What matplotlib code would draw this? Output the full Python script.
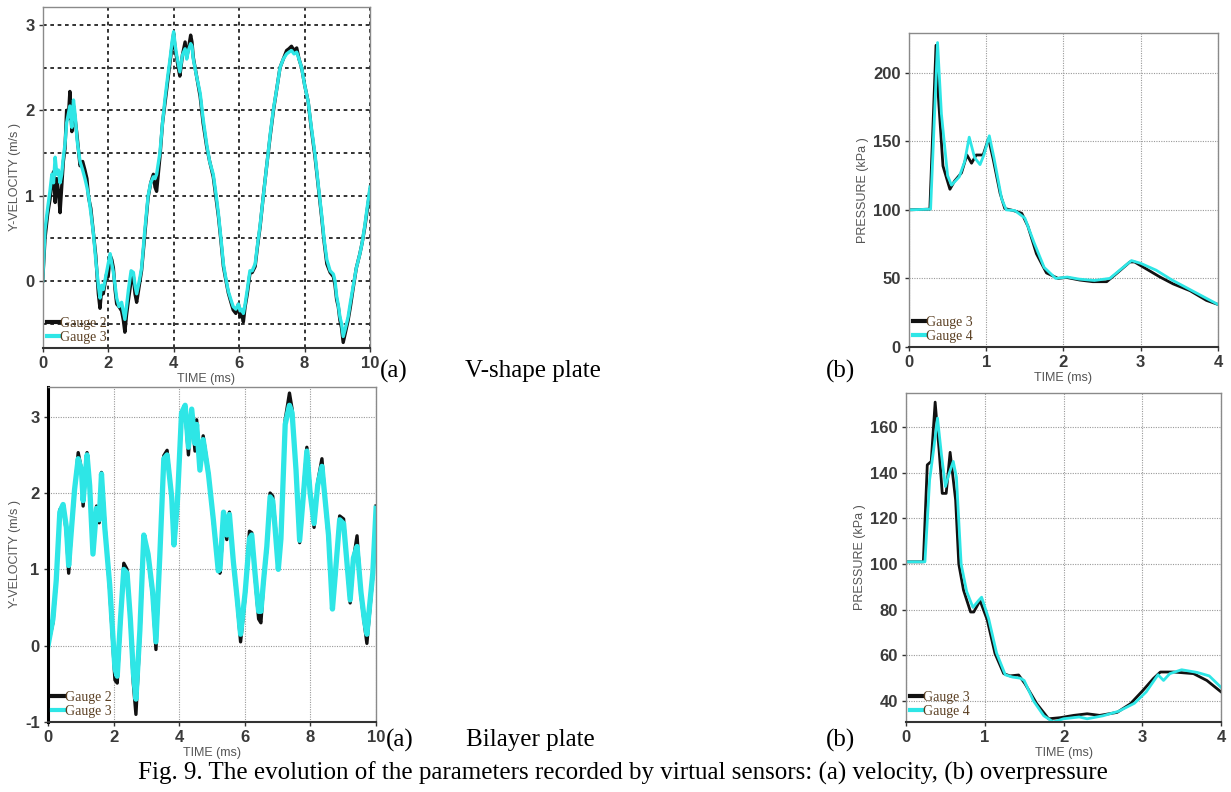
import matplotlib
matplotlib.use("Agg")
import matplotlib.pyplot as plt
from matplotlib.ticker import MultipleLocator

plt.rcParams["axes.unicode_minus"] = False

# ---- V-shape plate, velocity (gauge 2 black, gauge 3 cyan) ----
T_A = [0.00, 0.07, 0.15, 0.22, 0.28, 0.33, 0.38, 0.43, 0.48, 0.53,
       0.58, 0.63, 0.68, 0.73, 0.78, 0.83, 0.89, 0.94, 0.99, 1.05,
       1.14, 1.22, 1.29, 1.35, 1.40, 1.47, 1.55, 1.62, 1.70, 1.75,
       1.80, 1.85, 1.95, 2.00, 2.06, 2.11, 2.16, 2.21, 2.26, 2.33,
       2.41, 2.46, 2.51, 2.56, 2.62, 2.70, 2.77, 2.82, 2.87, 2.95,
       3.02, 3.12, 3.22, 3.30, 3.38, 3.43, 3.48, 3.58, 3.66, 3.74,
       3.82, 3.89, 3.95, 4.00, 4.05, 4.09, 4.14, 4.19, 4.27, 4.35,
       4.40, 4.45, 4.52, 4.56, 4.60, 4.70, 4.81, 4.90, 5.01, 5.10,
       5.21, 5.30, 5.37, 5.45, 5.52, 5.60, 5.67, 5.75, 5.82, 5.90,
       5.98, 6.03, 6.08, 6.13, 6.18, 6.25, 6.33, 6.40, 6.49, 6.56,
       6.64, 6.74, 6.84, 6.95, 7.05, 7.15, 7.25, 7.35, 7.45, 7.52,
       7.60, 7.68, 7.76, 7.83, 7.91, 8.00, 8.11, 8.20, 8.32, 8.42,
       8.52, 8.60, 8.68, 8.78, 8.88, 8.93, 8.98, 9.03, 9.08, 9.13,
       9.18, 9.25, 9.33, 9.40, 9.49, 9.58, 9.69, 9.76, 9.84, 9.92,
       10.0]
V_A2 = [0.00, 0.50, 0.78, 0.95, 1.15, 1.28, 0.92, 1.20, 1.05, 0.80,
        1.10, 1.40, 1.55, 2.00, 1.90, 2.22, 1.75, 2.05, 1.90, 1.70,
        1.35, 1.40, 1.30, 1.20, 0.98, 0.85, 0.55, 0.30, -0.15, -0.32,
        -0.10, -0.15, 0.08, 0.05, 0.30, 0.25, 0.15, -0.10, -0.27, -0.30,
        -0.35, -0.45, -0.60, -0.40, -0.22, 0.00, 0.05, -0.15, -0.25, -0.05,
        0.12, 0.55, 0.98, 1.15, 1.25, 1.10, 1.05, 1.45, 1.85, 2.10,
        2.35, 2.57, 2.75, 2.90, 2.70, 2.62, 2.50, 2.40, 2.65, 2.80,
        2.62, 2.72, 2.88, 2.80, 2.62, 2.40, 2.16, 1.85, 1.57, 1.40,
        1.22, 0.95, 0.75, 0.45, 0.17, 0.00, -0.14, -0.25, -0.34, -0.38,
        -0.27, -0.42, -0.39, -0.48, -0.31, -0.15, 0.09, 0.10, 0.17, 0.40,
        0.63, 1.00, 1.34, 1.70, 2.00, 2.25, 2.50, 2.60, 2.70, 2.72,
        2.75, 2.70, 2.73, 2.60, 2.50, 2.30, 2.10, 1.80, 1.45, 1.10,
        0.75, 0.45, 0.20, 0.10, 0.05, -0.05, -0.22, -0.30, -0.46, -0.55,
        -0.72, -0.60, -0.46, -0.30, -0.07, 0.15, 0.32, 0.45, 0.63, 0.85,
        1.07]
V_A3 = [0.00, 0.60, 0.85, 1.05, 1.25, 1.15, 1.45, 1.25, 1.30, 1.15,
        1.25, 1.45, 1.60, 1.85, 1.95, 2.05, 1.80, 2.12, 1.95, 1.65,
        1.40, 1.30, 1.20, 1.10, 1.00, 0.80, 0.55, 0.25, -0.05, -0.20,
        -0.05, -0.10, 0.10, 0.20, 0.32, 0.20, 0.10, -0.05, -0.20, -0.30,
        -0.25, -0.35, -0.45, -0.30, -0.10, 0.12, 0.10, -0.05, -0.15, 0.00,
        0.15, 0.60, 1.00, 1.15, 1.22, 1.20, 1.25, 1.50, 1.85, 2.15,
        2.40, 2.60, 2.80, 2.92, 2.75, 2.65, 2.55, 2.45, 2.65, 2.72,
        2.60, 2.70, 2.78, 2.75, 2.60, 2.40, 2.20, 1.90, 1.60, 1.40,
        1.25, 1.00, 0.78, 0.48, 0.20, 0.02, -0.12, -0.22, -0.30, -0.33,
        -0.27, -0.35, -0.33, -0.38, -0.28, -0.10, 0.12, 0.12, 0.20, 0.42,
        0.65, 1.00, 1.34, 1.72, 2.02, 2.25, 2.50, 2.60, 2.66, 2.68,
        2.70, 2.66, 2.68, 2.60, 2.50, 2.30, 2.10, 1.82, 1.48, 1.12,
        0.78, 0.48, 0.25, 0.12, 0.08, 0.00, -0.18, -0.28, -0.42, -0.50,
        -0.65, -0.55, -0.42, -0.25, -0.05, 0.15, 0.32, 0.45, 0.65, 0.88,
        1.10]

# ---- V-shape plate, pressure (gauge 3 black, gauge 4 cyan) ----
T_B3 = [0, 0.27, 0.35, 0.38, 0.44, 0.53, 0.59, 0.68, 0.75, 0.81,
        0.87, 0.96, 1.03, 1.09, 1.18, 1.24, 1.35, 1.46, 1.54, 1.65,
        1.78, 1.93, 2.04, 2.21, 2.38, 2.56, 2.69, 2.86, 2.92, 3.07,
        3.25, 3.42, 3.64, 3.85, 4.0]
P_B3 = [100, 100.5, 220, 183, 132, 115, 121, 127, 140, 134,
        140, 140, 152, 137, 112, 101, 99.5, 97.5, 88, 68,
        54, 50, 50.7, 48.8, 47.6, 47.6, 53.7, 62, 62, 57,
        51, 46, 41, 34, 31]
T_B4 = [0, 0.28, 0.37, 0.42, 0.50, 0.55, 0.65, 0.72, 0.78, 0.85,
        0.92, 0.97, 1.04, 1.10, 1.20, 1.26, 1.37, 1.50, 1.62, 1.75,
        1.90, 2.05, 2.20, 2.40, 2.60, 2.75, 2.88, 3.00, 3.20, 3.40,
        3.60, 3.80, 4.0]
P_B4 = [100, 100.5, 222, 170, 125, 118, 124, 135, 153, 138,
        133, 140, 154, 138, 108, 100, 99.5, 94, 76, 58,
        50, 51, 49.5, 48.5, 50, 57, 63, 61, 56, 49,
        43, 37, 31]

# ---- Bilayer plate, velocity ----
T_C = [0.00, 0.15, 0.25, 0.36, 0.46, 0.56, 0.63, 0.71, 0.81, 0.92,
       1.02, 1.07, 1.19, 1.27, 1.37, 1.48, 1.56, 1.63, 1.73, 1.88,
       2.04, 2.11, 2.21, 2.31, 2.41, 2.51, 2.60, 2.68, 2.80, 2.92,
       3.05, 3.19, 3.29, 3.41, 3.53, 3.63, 3.77, 3.84, 3.94, 4.07,
       4.18, 4.28, 4.38, 4.48, 4.53, 4.63, 4.73, 4.89, 5.04, 5.19,
       5.24, 5.35, 5.45, 5.53, 5.65, 5.77, 5.87, 6.01, 6.14, 6.21,
       6.31, 6.42, 6.49, 6.57, 6.67, 6.77, 6.85, 6.92, 7.02, 7.10,
       7.23, 7.36, 7.44, 7.56, 7.67, 7.79, 7.89, 7.99, 8.11, 8.22,
       8.35, 8.45, 8.55, 8.67, 8.76, 8.89, 9.01, 9.11, 9.21, 9.31,
       9.42, 9.54, 9.64, 9.72, 9.82, 9.90, 10.0]
V_C2 = [0.00, 0.30, 0.82, 1.78, 1.85, 1.48, 0.95, 1.48, 2.00, 2.53,
        2.31, 1.83, 2.53, 2.05, 1.26, 1.83, 1.61, 2.27, 1.61, 0.73,
        -0.45, -0.49, 0.30, 1.08, 1.00, 0.30, -0.49, -0.90, 0.12, 1.40,
        1.17, 0.65, -0.05, 1.17, 2.49, 2.56, 1.92, 1.35, 1.83, 3.00,
        3.10, 2.50, 3.05, 2.55, 2.96, 2.35, 2.75, 2.27, 1.61, 1.13,
        0.95, 1.61, 1.39, 1.75, 1.08, 0.56, 0.05, 0.65, 1.50, 1.48,
        0.91, 0.35, 0.30, 0.82, 1.26, 2.00, 1.96, 1.61, 1.08, 1.39,
        2.96, 3.31, 3.10, 2.27, 1.35, 2.05, 2.60, 2.05, 1.55, 2.14,
        2.45, 1.88, 1.39, 0.52, 0.91, 1.70, 1.66, 1.08, 0.56, 1.13,
        1.44, 0.65, 0.30, 0.03, 0.52, 0.91, 1.83]
V_C3 = [0.00, 0.35, 0.85, 1.75, 1.85, 1.55, 1.05, 1.50, 2.05, 2.45,
        2.30, 1.90, 2.50, 2.10, 1.20, 1.80, 1.65, 2.25, 1.55, 0.80,
        -0.30, -0.40, 0.35, 1.00, 0.95, 0.35, -0.35, -0.70, 0.20, 1.45,
        1.20, 0.70, 0.05, 1.20, 2.45, 2.50, 1.95, 1.32, 1.85, 3.05,
        3.15, 2.60, 3.10, 2.65, 2.90, 2.30, 2.70, 2.25, 1.65, 0.98,
        1.00, 1.75, 1.45, 1.72, 1.10, 0.60, 0.15, 0.70, 1.40, 1.45,
        0.95, 0.45, 0.45, 0.85, 1.30, 1.95, 1.90, 1.55, 1.00, 1.40,
        2.90, 3.15, 3.05, 2.30, 1.38, 2.00, 2.55, 2.00, 1.60, 2.10,
        2.35, 1.90, 1.45, 0.48, 0.95, 1.65, 1.60, 1.10, 0.60, 1.15,
        1.30, 0.70, 0.35, 0.15, 0.60, 0.95, 1.80]

# ---- Bilayer plate, pressure ----
T_D3 = [0, 0.22, 0.27, 0.32, 0.37, 0.42, 0.46, 0.51, 0.56, 0.63,
        0.67, 0.73, 0.82, 0.86, 0.94, 1.03, 1.13, 1.24, 1.32, 1.43,
        1.51, 1.66, 1.81, 1.96, 2.13, 2.30, 2.46, 2.68, 2.85, 3.01,
        3.14, 3.23, 3.40, 3.65, 3.82, 4.0]
P_D3 = [101, 101, 143.5, 145, 171, 150, 131, 131, 149, 128,
        100, 88.6, 79, 79, 84, 75.7, 60.8, 52, 51, 51.4,
        47.6, 38.8, 32.2, 32.7, 33.7, 34.4, 33.7, 35, 38.8, 44.7,
        49.8, 52.7, 52.7, 52, 49, 44]
T_D4 = [0, 0.24, 0.30, 0.35, 0.40, 0.45, 0.50, 0.55, 0.60, 0.64,
        0.70, 0.77, 0.85, 0.92, 0.96, 1.05, 1.15, 1.26, 1.35, 1.45,
        1.50, 1.62, 1.75, 1.87, 2.00, 2.20, 2.30, 2.50, 2.70, 2.90,
        3.05, 3.20, 3.27, 3.35, 3.50, 3.70, 3.85, 4.0]
P_D4 = [101, 101, 137, 150, 164, 148, 134, 140, 145, 138,
        100, 88, 81, 84, 85.5, 76, 61, 51.5, 50.5, 50,
        49, 40, 33.5, 30.8, 32.2, 33, 32.2, 33.5, 35.5, 39,
        44, 51.5, 49, 52, 53.7, 52.5, 51, 46]

BLACK = "#111111"
CYAN = "#2ee6e6"
SERIF = "Liberation Serif"
SANS = "Liberation Sans"


def style_axes(ax, grid_dark=False):
    for s in ax.spines.values():
        s.set_color("#8a8a8a")
        s.set_linewidth(1.0)
    ax.spines["bottom"].set_color("#333333")
    ax.spines["bottom"].set_linewidth(1.5)
    if grid_dark:
        ax.grid(True, which="both", color="#111111",
                linestyle=(0, (2.2, 2.2)), linewidth=1.2)
    else:
        ax.grid(True, color="#999999", linestyle=(0, (1, 1.2)), linewidth=0.8)
    ax.set_axisbelow(True)
    ax.tick_params(direction="out", length=3, width=1, colors="#333333",
                   labelsize=12, pad=3)
    ax.tick_params(which="minor", length=0)
    for lab in ax.get_xticklabels() + ax.get_yticklabels():
        lab.set_fontfamily(SANS)
        lab.set_fontweight("bold")
        lab.set_color("#3a3a3a")


def label_axes(ax, ylabel):
    ax.set_xlabel("TIME (ms)", fontsize=9, family=SANS, color="#555555", labelpad=1)
    ax.set_ylabel(ylabel, fontsize=9, family=SANS, color="#555555", labelpad=3)


def add_legend(ax, labels):
    leg = ax.legend(labels, loc="lower left", frameon=False,
                    prop={"family": SERIF, "size": 10},
                    handlelength=0.9, handletextpad=0.05,
                    borderaxespad=0.1, labelspacing=0.05,
                    borderpad=0.2)
    for t in leg.get_texts():
        t.set_color("#5a3f22")
    for h in leg.get_lines():
        h.set_linewidth(3)


fig = plt.figure(figsize=(12.31, 7.92), dpi=100)

# (a) V-shape velocity
ax = fig.add_axes([0.0347, 0.5606, 0.2659, 0.4306])
ax.plot(T_A, V_A2, color=BLACK, lw=2.4)
ax.plot(T_A, V_A3, color=CYAN, lw=2.4)
ax.set_xlim(0, 10)
ax.set_ylim(-0.785, 3.21)
ax.set_xticks([0, 2, 4, 6, 8, 10])
ax.set_yticks([0, 1, 2, 3])
ax.yaxis.set_minor_locator(MultipleLocator(0.5))
style_axes(ax, grid_dark=True)
label_axes(ax, "Y-VELOCITY (m/s )")
add_legend(ax, ["Gauge 2", "Gauge 3"])

# (b) V-shape pressure
ax = fig.add_axes([0.7384, 0.5619, 0.251, 0.3965])
ax.plot(T_B3, P_B3, color=BLACK, lw=2.0)
ax.plot(T_B4, P_B4, color=CYAN, lw=2.0)
ax.set_xlim(0, 4)
ax.set_ylim(0, 229)
ax.set_xticks([0, 1, 2, 3, 4])
ax.set_yticks([0, 50, 100, 150, 200])
style_axes(ax)
label_axes(ax, "PRESSURE (kPa )")
add_legend(ax, ["Gauge 3", "Gauge 4"])

# (a) Bilayer velocity
ax = fig.add_axes([0.039, 0.0884, 0.2665, 0.423])
ax.plot(T_C, V_C2, color=BLACK, lw=2.4)
ax.plot(T_C, V_C3, color=CYAN, lw=3.8)
ax.set_xlim(0, 10)
ax.set_ylim(-1, 3.39)
ax.set_xticks([0, 2, 4, 6, 8, 10])
ax.set_yticks([-1, 0, 1, 2, 3])
style_axes(ax)
ax.spines["left"].set_color("#000000")
ax.spines["left"].set_linewidth(2.2)
label_axes(ax, "Y-VELOCITY (m/s )")
add_legend(ax, ["Gauge 2", "Gauge 3"])

# (b) Bilayer pressure
ax = fig.add_axes([0.736, 0.0884, 0.2559, 0.4154])
ax.plot(T_D3, P_D3, color=BLACK, lw=2.0)
ax.plot(T_D4, P_D4, color=CYAN, lw=2.0)
ax.set_xlim(0, 4)
ax.set_ylim(30.8, 175)
ax.set_xticks([0, 1, 2, 3, 4])
ax.set_yticks([40, 60, 80, 100, 120, 140, 160])
style_axes(ax)
label_axes(ax, "PRESSURE (kPa )")
add_legend(ax, ["Gauge 3", "Gauge 4"])

# panel labels and caption (figure pixel coords -> fractions)
W, H = 1231, 792
lab = dict(family=SERIF, fontsize=18, va="center")
fig.text(380 / W, 1 - 371 / H, "(a)", ha="left", **lab)
fig.text(533 / W, 1 - 371 / H, "V-shape plate", ha="center", **lab)
fig.text(855 / W, 1 - 371 / H, "(b)", ha="right", **lab)
fig.text(386 / W, 1 - 740 / H, "(a)", ha="left", **lab)
fig.text(530 / W, 1 - 740 / H, "Bilayer plate", ha="center", **lab)
fig.text(855 / W, 1 - 740 / H, "(b)", ha="right", **lab)
fig.text(623 / W, 1 - 773 / H,
         "Fig. 9. The evolution of the parameters recorded by virtual sensors: "
         "(a) velocity, (b) overpressure", ha="center", **lab)

fig.savefig("out.png", dpi=100)
